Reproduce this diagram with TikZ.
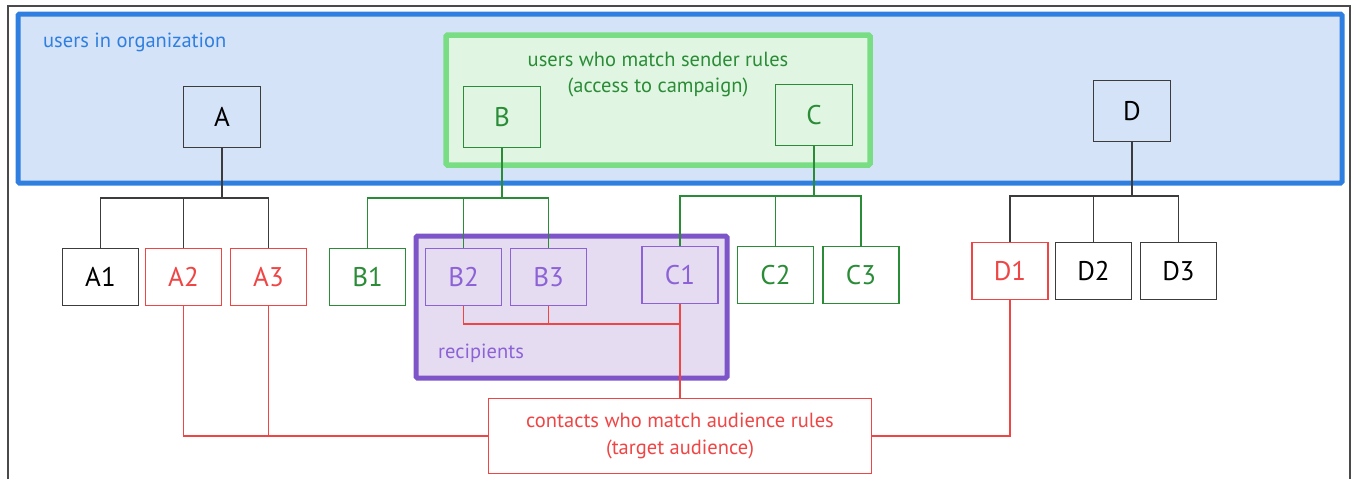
\documentclass[tikz,border=0pt]{standalone}
\usepackage{fontspec}
\setmainfont{PT Sans}
\definecolor{frame}{HTML}{4A4A4A}
\definecolor{orgblue}{HTML}{2F7FE0}
\definecolor{orgfill}{HTML}{D5E3F8}
\definecolor{sendline}{HTML}{79DD84}
\definecolor{sendfill}{HTML}{E1F6E2}
\definecolor{sendgreen}{HTML}{2A8C37}
\definecolor{recline}{HTML}{7E55C9}
\definecolor{recthin}{HTML}{8C62D6}
\definecolor{recfill}{HTML}{E5DCF2}
\definecolor{audred}{HTML}{F04545}
\definecolor{treegray}{HTML}{3C3C3C}
\tikzset{
  bx/.style={draw=treegray, line width=1.2pt, inner sep=0pt, font=\fontsize{27}{30}\selectfont},
  topbx/.style={bx, minimum width=77pt, minimum height=61pt},
  lowbx/.style={bx, minimum width=76pt, minimum height=57pt},
  greenbx/.style={draw=sendgreen, text=sendgreen},
  redbx/.style={draw=audred, text=audred},
  purpbx/.style={draw=recthin, text=recthin},
  blackln/.style={draw=treegray, line width=1.1pt},
  greenln/.style={draw=sendgreen, line width=1.1pt},
  redln/.style={draw=audred, line width=1.1pt},
  lbl/.style={font=\fontsize{20.5}{26.5}\selectfont, align=center, inner sep=0pt},
}
\begin{document}
\begin{tikzpicture}[x=1pt, y=-1pt]
\useasboundingbox (0,0) rectangle (1351,479);
% outer frame
\draw[frame, line width=1.5pt] (8,479) -- (8,6) -- (1350,6) -- (1350,479);
% organization
\draw[orgblue, fill=orgfill, line width=5pt, rounded corners=1.5pt] (18,14) rectangle (1342,183);
\node[lbl, text=orgblue, anchor=west] (orgl) at (43,42) {users in organization};
% sender rules
\draw[sendline, fill=sendfill, line width=5.5pt, rounded corners=1.5pt] (446,35) rectangle (870,165);
\node[lbl, text=sendgreen] (sendl) at (658,74.5) {users who match sender rules\\(access to campaign)};
% recipients
\draw[recline, fill=recfill, line width=5pt, rounded corners=1.5pt] (416,236) rectangle (727,378);
\node[lbl, text=recthin, anchor=west] (recl) at (438,353) {recipients};
% top boxes
\node[topbx] (A) at (222,117) {A};
\node[topbx, greenbx] (B) at (502,117) {B};
\node[topbx, greenbx] (C) at (814,115) {C};
\node[topbx] (D) at (1132,111) {D};
% bottom boxes
\node[lowbx, fill=white] (A1) at (100.5,277) {A1};
\node[lowbx, fill=white, redbx] (A2) at (183.5,277) {A2};
\node[lowbx, fill=white, redbx] (A3) at (268.5,277) {A3};
\node[lowbx, fill=white, greenbx] (B1) at (367.5,277) {B1};
\node[lowbx, purpbx] (B2) at (463.5,277) {B2};
\node[lowbx, purpbx] (B3) at (548.5,277) {B3};
\node[lowbx, purpbx] (C1) at (680,275) {C1};
\node[lowbx, fill=white, greenbx] (C2) at (775.5,275) {C2};
\node[lowbx, fill=white, greenbx] (C3) at (861,275) {C3};
\node[lowbx, fill=white, redbx] (D1) at (1010,271) {D1};
\node[lowbx, fill=white] (D2) at (1093.5,271) {D2};
\node[lowbx, fill=white] (D3) at (1178.5,271) {D3};
% target audience
\node[draw=audred, line width=1.2pt, minimum width=383pt, minimum height=75pt, lbl, text=audred, fill=white] (T) at (680,436) {contacts who match audience rules\\(target audience)};
% trees
\coordinate (Aj) at (222,198);
\coordinate (Bj) at (502,198);
\coordinate (Cj) at (814,196);
\coordinate (Dj) at (1132,196);
\draw[blackln] (A.south) -- (Aj);
\draw[blackln] (A1.north) |- (A3.north |- Aj) -- (A3.north);
\draw[blackln] (A2.north) -- (A2.north |- Aj);
\draw[greenln] (B.south) -- (Bj);
\draw[greenln] (B1.north) |- (B3.north |- Bj) -- (B3.north);
\draw[greenln] (B2.north) -- (B2.north |- Bj);
\draw[greenln] (C.south) -- (Cj);
\draw[greenln] (C1.north) |- (C3.north |- Cj) -- (C3.north);
\draw[greenln] (C2.north) -- (C2.north |- Cj);
\draw[blackln] (D.south) -- (Dj);
\draw[blackln] (D1.north) |- (D3.north |- Dj) -- (D3.north);
\draw[blackln] (D2.north) -- (D2.north |- Dj);
% audience lines
\coordinate (Rj) at (680,324);
\draw[redln] (A2.south) |- (T.west);
\draw[redln] (A3.south) -- (A3.south |- T.west);
\draw[redln] (D1.south) |- (T.east);
\draw[redln] (B2.south) |- (Rj);
\draw[redln] (B3.south) -- (B3.south |- Rj);
\draw[redln] (C1.south) -- (T.north);
\end{tikzpicture}
\end{document}
